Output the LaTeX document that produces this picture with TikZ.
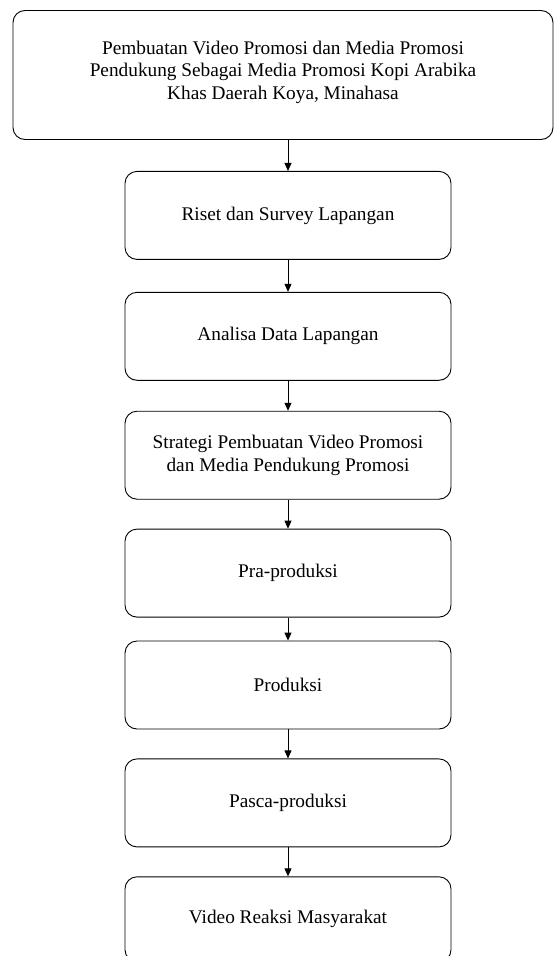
\documentclass[tikz,border=0pt]{standalone}
\usepackage{fontspec}
\setmainfont{Liberation Serif}
\usetikzlibrary{arrows.meta,positioning}

\begin{document}
\begin{tikzpicture}[x=1pt, y=1pt, >={Triangle[length=8pt,width=7pt]}, semithick, node distance=29pt]
\tikzstyle{every node}=[font=\fontsize{19.3}{22.5}\selectfont]
\tikzstyle{proc}=[draw=black, line width=0.9pt, rounded corners=12pt, align=center, inner sep=0pt, minimum width=326pt, minimum height=88pt]
\useasboundingbox (0,0) rectangle (554,-956);
\node[proc, minimum width=540pt, minimum height=129pt] (judul) at (283,-75)
  {Pembuatan Video Promosi dan Media Promosi\\Pendukung Sebagai Media Promosi Kopi Arabika\\Khas Daerah Koya, Minahasa\\[-13pt]};
\node[proc] (riset)[below=31pt of judul, xshift=5pt] {Riset dan Survey Lapangan};
\node[proc] (analisa)[below=32pt of riset] {Analisa Data Lapangan};
\node[proc] (strategi)[below=30pt of analisa] {Strategi Pembuatan Video Promosi\\dan Media Pendukung Promosi};
\node[proc] (pra)[below=29pt of strategi] {Pra-produksi};
\node[proc] (produksi)[below=23pt of pra] {Produksi};
\node[proc] (pasca)[below=29pt of produksi] {Pasca-produksi};
\node[proc, minimum height=85pt] (reaksi)[below=29pt of pasca] {Video Reaksi Masyarakat};
\path[->, line width=0.9pt]
(riset.north |- judul.south)   edge   (riset.north)
(riset)      edge   (analisa)
(analisa)    edge   (strategi)
(strategi)   edge   (pra)
(pra)        edge   (produksi)
(produksi)   edge   (pasca)
(pasca)      edge   (reaksi);
\end{tikzpicture}
\end{document}
